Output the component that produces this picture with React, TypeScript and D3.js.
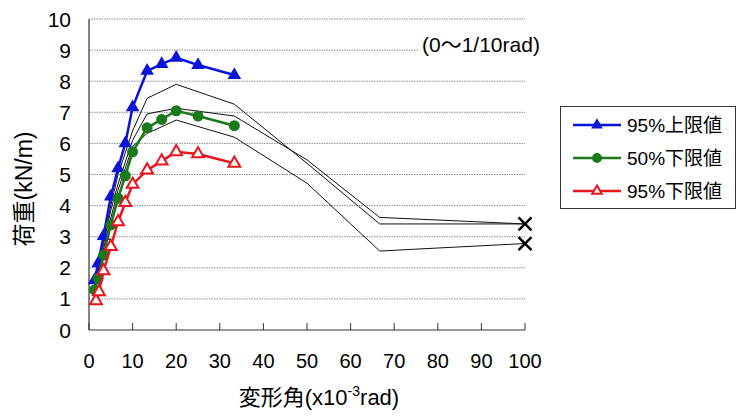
import React from 'react';
import * as d3 from 'd3';

const xTicks = [0, 10, 20, 30, 40, 50, 60, 70, 80, 90, 100];
const yTicks = [0, 1, 2, 3, 4, 5, 6, 7, 8, 9, 10];

const seriesX = [1.25, 2.1, 3.33, 5, 6.67, 8.33, 10, 13.33, 16.67, 20, 25, 33.33];
const upper95 = [1.6, 2.14, 3.02, 4.29, 5.2, 6.0, 7.16, 8.33, 8.55, 8.75, 8.52, 8.2];
const median50 = [1.29, 1.66, 2.41, 3.38, 4.24, 4.96, 5.73, 6.5, 6.77, 7.05, 6.88, 6.57];
const lowerX = [1.6, 2.3, 3.33, 5, 6.67, 8.33, 10, 13.33, 16.67, 20, 25, 33.33];
const lower95 = [0.94, 1.23, 1.9, 2.68, 3.48, 4.1, 4.68, 5.14, 5.43, 5.73, 5.66, 5.36];

const specX = [1.25, 2.1, 3.33, 5, 6.67, 8.33, 10, 13.33, 20, 33.33, 50, 66.67, 100];
const specA = [1.5, 2.0, 2.9, 4.0, 5.0, 5.7, 6.4, 7.45, 7.9, 7.26, 5.36, 3.41, 3.41];
const specB = [1.45, 1.9, 2.75, 3.85, 4.7, 5.4, 6.1, 6.95, 7.13, 6.88, 5.47, 3.62, 3.41];
const specC = [1.35, 1.8, 2.6, 3.6, 4.5, 5.2, 5.9, 6.32, 6.75, 6.2, 4.72, 2.54, 2.78];

const failX = [100, 100];
const failY = [3.41, 2.78];

const legendLabels = ['95%上限値', '50%下限値', '95%下限値'];
const rangeNote = '(0〜1/10rad)';

const FONT = "'Liberation Sans', 'Noto Sans CJK JP', sans-serif";

export default function App() {
  const x = d3.scaleLinear().domain([0, 100]).range([89, 525]);
  const y = d3.scaleLinear().domain([0, 10]).range([330, 19]);

  const line = d3
    .line<[number, number]>()
    .x((d) => x(d[0]))
    .y((d) => y(d[1]));

  const zip = (xs: number[], ys: number[]) => xs.map((v, i) => [v, ys[i]] as [number, number]);

  const tri = d3.symbol().type(d3.symbolTriangle).size(80)() as string;
  const triSmall = d3.symbol().type(d3.symbolTriangle).size(60)() as string;

  const blue = '#0a14d8';
  const green = '#1a7a1a';
  const red = '#e8141e';

  const legendItems = [
    { label: legendLabels[0], color: blue, kind: 'tri' },
    { label: legendLabels[1], color: green, kind: 'circle' },
    { label: legendLabels[2], color: red, kind: 'open' },
  ];

  return (
    <svg
      width={743}
      height={417}
      style={{ position: 'absolute', left: 0, top: 0, background: '#fff' }}
      fontFamily={FONT}
    >
      <rect x={0} y={0} width={743} height={417} fill="#fff" />
      {yTicks.filter((t) => t > 0).map((t) => (
        <line
          key={'g' + t}
          x1={x(0)}
          x2={x(100)}
          y1={y(t)}
          y2={y(t)}
          stroke="#8c8c8c"
          strokeWidth={1}
          strokeDasharray="1.5,1"
        />
      ))}
      <rect x={419} y={32} width={140} height={26} fill="#fff" />
      <text x={422} y={52} fontSize={21} fill="#000">
        {rangeNote}
      </text>
      <line x1={x(0)} x2={x(0)} y1={y(10)} y2={y(0)} stroke="#333" strokeWidth={1.2} />
      <line x1={x(0)} x2={x(100)} y1={y(0)} y2={y(0)} stroke="#333" strokeWidth={1.2} />
      {xTicks.map((t) => (
        <line key={'xt' + t} x1={x(t)} x2={x(t)} y1={y(0)} y2={y(0) - 7} stroke="#333" strokeWidth={1} />
      ))}
      {xTicks.map((t) => (
        <text key={'xl' + t} x={x(t)} y={368} fontSize={20} textAnchor="middle" fill="#000">
          {t}
        </text>
      ))}
      {yTicks.map((t) => (
        <text key={'yl' + t} x={71} y={y(t) + 7.5} fontSize={21} textAnchor="end" fill="#000">
          {t}
        </text>
      ))}
      <text x={319} y={405} fontSize={22} textAnchor="middle" fill="#000">
        変形角(x10<tspan dy={-9} fontSize={14}>-3</tspan>
        <tspan dy={9}>rad)</tspan>
      </text>
      <text
        transform={`translate(32, 189) rotate(-90)`}
        fontSize={23}
        textAnchor="middle"
        fill="#000"
      >
        荷重(kN/m)
      </text>

      {[specA, specB, specC].map((s, i) => (
        <path key={'s' + i} d={line(zip(specX, s)) as string} fill="none" stroke="#111" strokeWidth={1} />
      ))}
      {failX.map((fx, i) => (
        <g key={'f' + i} transform={`translate(${x(fx)},${y(failY[i])})`}>
          <line x1={-6.5} y1={-6.5} x2={6.5} y2={6.5} stroke="#000" strokeWidth={2.5} />
          <line x1={-6.5} y1={6.5} x2={6.5} y2={-6.5} stroke="#000" strokeWidth={2.5} />
        </g>
      ))}

      <path d={line(zip(seriesX, upper95)) as string} fill="none" stroke={blue} strokeWidth={2.5} />
      {seriesX.map((v, i) => (
        <path key={'b' + i} d={tri} transform={`translate(${x(v)},${y(upper95[i])})`} fill={blue} />
      ))}
      <path d={line(zip(seriesX, median50)) as string} fill="none" stroke={green} strokeWidth={2.5} />
      {seriesX.map((v, i) => (
        <circle key={'c' + i} cx={x(v)} cy={y(median50[i])} r={5.5} fill={green} />
      ))}
      <path d={line(zip(lowerX, lower95)) as string} fill="none" stroke={red} strokeWidth={2.5} />
      {lowerX.map((v, i) => (
        <path
          key={'r' + i}
          d={triSmall}
          transform={`translate(${x(v)},${y(lower95[i])})`}
          fill="#fff"
          stroke={red}
          strokeWidth={2}
        />
      ))}

      <rect x={560.5} y={106.5} width={175} height={102} fill="#fff" stroke="#333" strokeWidth={1} />
      {legendItems.map((it, i) => {
        const cy = 125 + i * 33;
        return (
          <g key={'l' + i}>
            <line x1={573} x2={621} y1={cy} y2={cy} stroke={it.color} strokeWidth={2.5} />
            {it.kind === 'tri' && (
              <path d={triSmall} transform={`translate(597,${cy})`} fill={it.color} />
            )}
            {it.kind === 'circle' && <circle cx={597} cy={cy} r={5} fill={it.color} />}
            {it.kind === 'open' && (
              <path d={d3.symbol().type(d3.symbolTriangle).size(40)() as string} transform={`translate(597,${cy})`} fill="#fff" stroke={it.color} strokeWidth={2} />
            )}
            <text x={627} y={cy + 7} fontSize={19} fill="#000">
              {it.label}
            </text>
          </g>
        );
      })}
    </svg>
  );
}
